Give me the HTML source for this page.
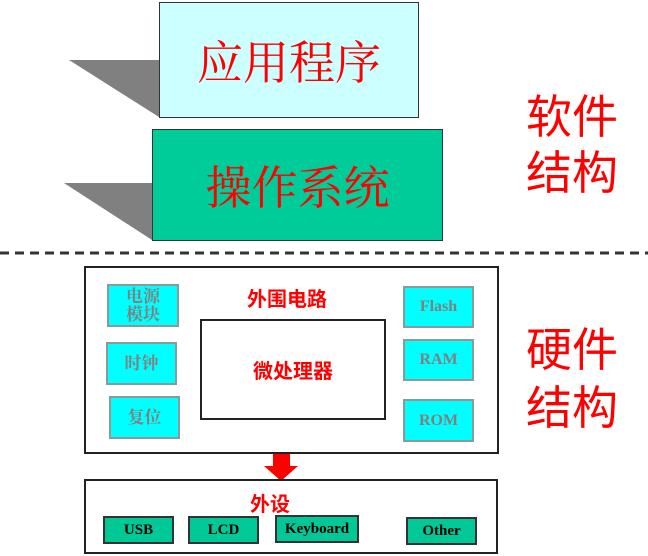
<!DOCTYPE html>
<html><head><meta charset="utf-8"><style>
body{margin:0;width:648px;height:556px;background:#fff;position:relative;overflow:hidden;font-family:"Liberation Serif","Noto Serif CJK SC",serif}
.a{position:absolute;box-sizing:border-box}
.c{display:flex;align-items:center;justify-content:center;text-align:center}
.cy{background:#00ffff;border:2px solid #8a9a9a;color:#808080;font-size:17px;line-height:18px;font-weight:bold}
.gr{background:#00c896;border:2px solid #333;color:#000;font-weight:bold;font-size:15px}
.en{font-weight:bold;font-size:16px}
.rt{color:#ff0000;font-size:20px;font-weight:bold;font-family:"Noto Sans CJK SC",sans-serif}
</style></head><body>
<svg class="a" style="left:0;top:0" width="648" height="556">
<polygon points="69,60 159,60 159,117" fill="#808080"/>
<polygon points="64,183 152,183 152,240" fill="#808080"/>
<line x1="0" y1="253" x2="648" y2="253" stroke="#333" stroke-width="3" stroke-dasharray="9,6"/>
<polygon points="273,453 290,453 290,466 298,466 281,481 264,466 273,466" fill="#ff0000"/>
</svg>
<div class="a c" style="left:159px;top:2px;width:260px;height:116px;background:#ccffff;border:1px solid #333;color:#ff0000;font-size:46px;font-family:'Noto Serif CJK SC',serif">应用程序</div>
<div class="a c" style="left:152px;top:129px;width:291px;height:112px;background:#00cc99;border:1px solid #333;color:#ff0000;font-size:46px;font-family:'Noto Serif CJK SC',serif">操作系统</div>
<div class="a" style="left:526px;top:86px;width:100px;color:#ff0000;font-size:46px;line-height:56px;font-family:'Noto Sans CJK SC',sans-serif">软件<br>结构</div>
<div class="a" style="left:526px;top:318px;width:100px;color:#ff0000;font-size:46px;line-height:58px;font-family:'Noto Sans CJK SC',sans-serif">硬件<br>结构</div>
<div class="a" style="left:84px;top:266px;width:415px;height:188px;border:2px solid #222"></div>
<div class="a c rt" style="left:200px;top:319px;width:186px;height:101px;border:2px solid #222">微处理器</div>
<div class="a rt" style="left:247px;top:283px">外围电路</div>
<div class="a c cy" style="left:107px;top:284px;width:72px;height:43px">电源<br>模块</div>
<div class="a c cy" style="left:106px;top:342px;width:71px;height:43px">时钟</div>
<div class="a c cy" style="left:109px;top:396px;width:71px;height:43px">复位</div>
<div class="a c cy en" style="left:403px;top:286px;width:71px;height:42px">Flash</div>
<div class="a c cy en" style="left:403px;top:339px;width:71px;height:42px">RAM</div>
<div class="a c cy en" style="left:403px;top:399px;width:71px;height:43px">ROM</div>
<div class="a" style="left:84px;top:479px;width:414px;height:75px;border:2px solid #222"></div>
<div class="a rt" style="left:250px;top:488px">外设</div>
<div class="a c gr" style="left:103px;top:516px;width:71px;height:28px">USB</div>
<div class="a c gr" style="left:188px;top:516px;width:71px;height:28px">LCD</div>
<div class="a c gr" style="left:275px;top:515px;width:84px;height:28px">Keyboard</div>
<div class="a c gr" style="left:406px;top:517px;width:71px;height:28px">Other</div>
</body></html>
